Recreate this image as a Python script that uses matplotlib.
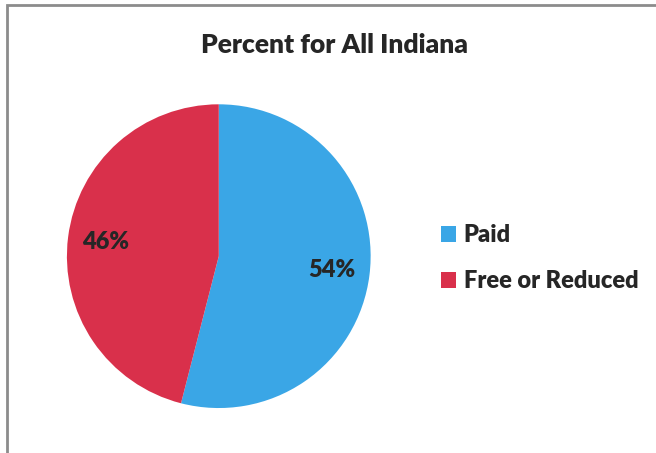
import matplotlib.pyplot as plt
from matplotlib.patches import Rectangle

labels = ['Paid', 'Free or Reduced']
values = [54, 46]
colors = ['#3aa6e6', '#d9304b']

plt.rcParams['font.family'] = ['Lato', 'DejaVu Sans']

fig = plt.figure(figsize=(6.56, 4.53), dpi=100)
fig.patches.append(Rectangle((7 / 656, -0.1), 1.2, 1 - 5 / 453 + 0.1,
                             transform=fig.transFigure, fill=False,
                             edgecolor='#8c8c8c', linewidth=2))

ax = fig.add_axes([0.102, 0.099, 0.463, 0.671])
wedges, texts, autotexts = ax.pie(values, colors=colors, startangle=90,
                                  counterclock=False, autopct='%1.0f%%',
                                  pctdistance=0.75,
                                  textprops=dict(fontsize=17, fontweight='heavy',
                                                 color='#262626'))
ax.set_xlim(-1, 1)
ax.set_ylim(-1, 1)
ax.set_aspect('equal')

fig.text(0.51, 0.9, 'Percent for All Indiana', ha='center', va='center',
         fontsize=19, fontweight='heavy', color='#262626')

fig.legend(wedges, labels, loc='center left', bbox_to_anchor=(0.64, 0.43),
           frameon=False, handlelength=0.65, handleheight=0.65,
           handletextpad=0.3, labelspacing=1.0,
           prop=dict(size=17, weight='heavy'), labelcolor='#262626')

fig.savefig('out.png', dpi=100)
